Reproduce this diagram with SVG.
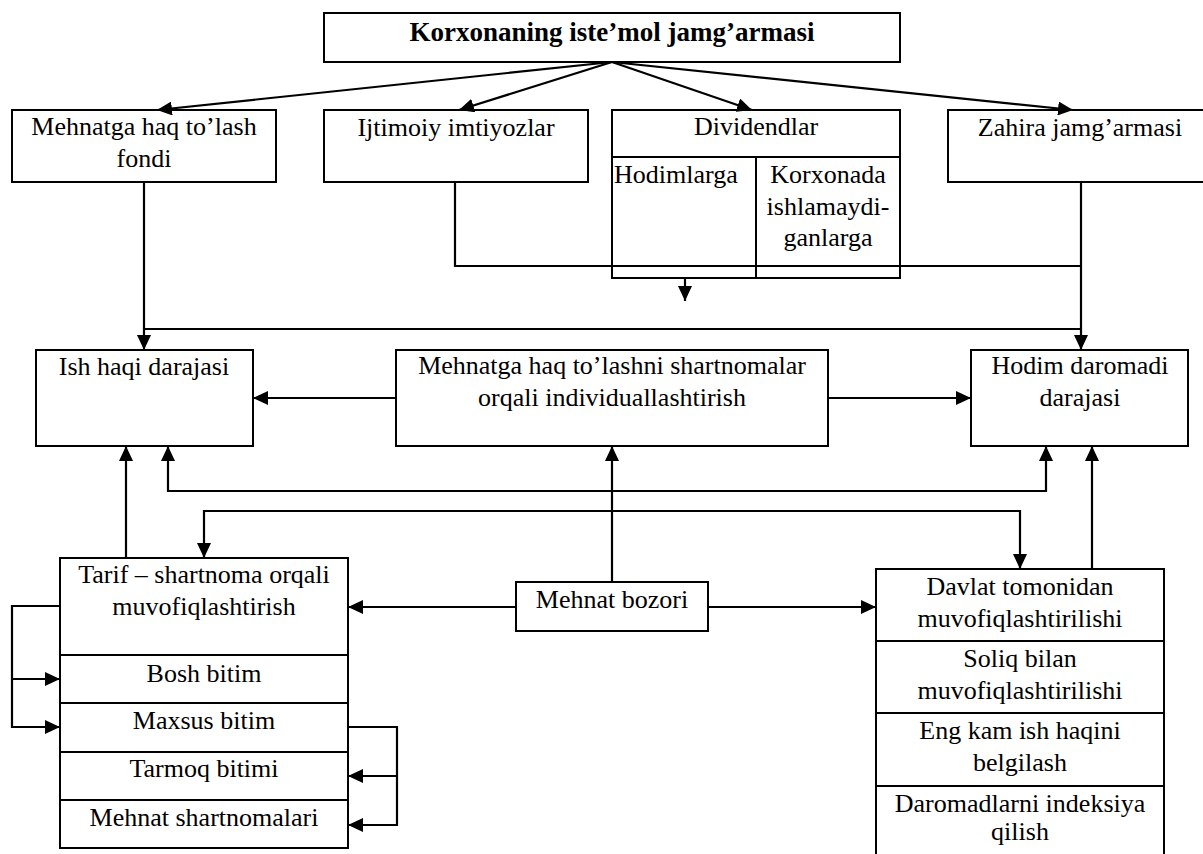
<svg xmlns="http://www.w3.org/2000/svg" width="1203" height="854" viewBox="0 0 1203 854">
<defs>
<style>
.box{fill:#fff;stroke:#000;stroke-width:2}
.ln{fill:none;stroke:#000;stroke-width:2}
.con{fill:none;stroke:#000;stroke-width:2.2}
.t{font-family:"Liberation Serif","Times New Roman",serif;font-size:26px;fill:#000;text-anchor:middle}
.s{text-anchor:start}
.b{font-weight:bold;font-size:27px}
.ar{marker-end:url(#arrow)}
.as{marker-start:url(#arrowS)}
</style>
<marker id="arrow" markerUnits="userSpaceOnUse" markerWidth="16" markerHeight="14" refX="15" refY="7" orient="auto">
<path d="M0,0 L15,7 L0,14 z" fill="#000"/>
</marker>
<marker id="arrowS" markerUnits="userSpaceOnUse" markerWidth="16" markerHeight="14" refX="15" refY="7" orient="auto-start-reverse">
<path d="M0,0 L15,7 L0,14 z" fill="#000"/>
</marker>
</defs>
<rect width="1203" height="854" fill="#fff"/>

<g id="korxona">
<rect class="box" x="324" y="13" width="576" height="49"/>
<text class="t b" x="612" y="41">Korxonaning iste’mol jamg’armasi</text>
</g>

<g id="mehnatga-fondi">
<rect class="box" x="12" y="110" width="264" height="72"/>
<text class="t" x="144" y="135">Mehnatga haq to’lash</text>
<text class="t" x="144" y="167">fondi</text>
</g>

<g id="ijtimoiy">
<rect class="box" x="324" y="110" width="264" height="72"/>
<text class="t" x="456" y="136">Ijtimoiy imtiyozlar</text>
</g>

<g id="dividendlar">
<rect class="box" x="612" y="110" width="288" height="168"/>
<line class="ln" x1="612" y1="157" x2="900" y2="157"/>
<line class="ln" x1="756" y1="157" x2="756" y2="278"/>
<text class="t" x="756" y="135">Dividendlar</text>
<text class="t s" x="614" y="183">Hodimlarga</text>
<text class="t" x="828" y="183">Korxonada</text>
<text class="t" x="828" y="215">ishlamaydi-</text>
<text class="t" x="828" y="246">ganlarga</text>
</g>

<g id="zahira">
<rect class="box" x="948" y="110" width="270" height="72"/>
<text class="t" x="1080" y="136">Zahira jamg’armasi</text>
</g>

<g id="ish-haqi">
<rect class="box" x="36" y="350" width="217" height="96"/>
<text class="t" x="144" y="375">Ish haqi darajasi</text>
</g>

<g id="individual">
<rect class="box" x="396" y="350" width="432" height="96"/>
<text class="t" x="612" y="374">Mehnatga haq to’lashni shartnomalar</text>
<text class="t" x="612" y="406">orqali individuallashtirish</text>
</g>

<g id="hodim-daromadi">
<rect class="box" x="971" y="350" width="217" height="96"/>
<text class="t" x="1080" y="374">Hodim daromadi</text>
<text class="t" x="1080" y="406">darajasi</text>
</g>

<g id="tarif">
<rect class="box" x="60" y="558" width="288" height="97"/>
<text class="t" x="204" y="583">Tarif – shartnoma orqali</text>
<text class="t" x="204" y="615">muvofiqlashtirish</text>
</g>
<g id="bosh-bitim">
<rect class="box" x="60" y="655" width="288" height="48"/>
<text class="t" x="204" y="682">Bosh bitim</text>
</g>
<g id="maxsus-bitim">
<rect class="box" x="60" y="703" width="288" height="49"/>
<text class="t" x="204" y="729">Maxsus bitim</text>
</g>
<g id="tarmoq-bitimi">
<rect class="box" x="60" y="752" width="288" height="48"/>
<text class="t" x="204" y="777">Tarmoq bitimi</text>
</g>
<g id="mehnat-shartnomalari">
<rect class="box" x="60" y="800" width="288" height="48"/>
<text class="t" x="204" y="826">Mehnat shartnomalari</text>
</g>

<g id="mehnat-bozori">
<rect class="box" x="516" y="582" width="192" height="49"/>
<text class="t" x="612" y="608">Mehnat bozori</text>
</g>

<g id="davlat">
<rect class="box" x="876" y="569" width="288" height="72"/>
<text class="t" x="1020" y="595">Davlat tomonidan</text>
<text class="t" x="1020" y="627">muvofiqlashtirilishi</text>
</g>
<g id="soliq">
<rect class="box" x="876" y="641" width="288" height="72"/>
<text class="t" x="1020" y="667">Soliq bilan</text>
<text class="t" x="1020" y="699">muvofiqlashtirilishi</text>
</g>
<g id="eng-kam">
<rect class="box" x="876" y="713" width="288" height="73"/>
<text class="t" x="1020" y="739">Eng kam ish haqini</text>
<text class="t" x="1020" y="771">belgilash</text>
</g>
<g id="indeksiya">
<rect class="box" x="876" y="786" width="288" height="84"/>
<text class="t" x="1020" y="812">Daromadlarni indeksiya</text>
<text class="t" x="1020" y="840">qilish</text>
</g>

<g id="connectors">
<path class="con ar" d="M612,62 L157,110"/>
<path class="con ar" d="M612,62 L459,110"/>
<path class="con ar" d="M612,62 L752,110"/>
<path class="con ar" d="M612,62 L1073,110"/>
<path class="con ar" d="M144,182 V350"/>
<path class="con" d="M144,329 H1081"/>
<path class="con ar" d="M1081,182 V350"/>
<path class="con" d="M455,182 V266 H1081"/>
<path class="con ar" d="M685,278 V301"/>
<path class="con ar" d="M396,398 H253"/>
<path class="con ar" d="M828,398 H971"/>
<path class="con ar" d="M126,558 V446"/>
<path class="con as ar" d="M168,446 V491 H1046 V446"/>
<path class="con as ar" d="M204,558 V511 H1020 V569"/>
<path class="con ar" d="M612,582 V446"/>
<path class="con ar" d="M1092,569 V446"/>
<path class="con ar" d="M516,607 H348"/>
<path class="con ar" d="M708,607 H876"/>
<path class="con ar" d="M60,606 H12 V727 H60"/>
<path class="con ar" d="M12,679 H60"/>
<path class="con ar" d="M348,727 H397 V825 H348"/>
<path class="con ar" d="M397,776 H348"/>
</g>
</svg>
